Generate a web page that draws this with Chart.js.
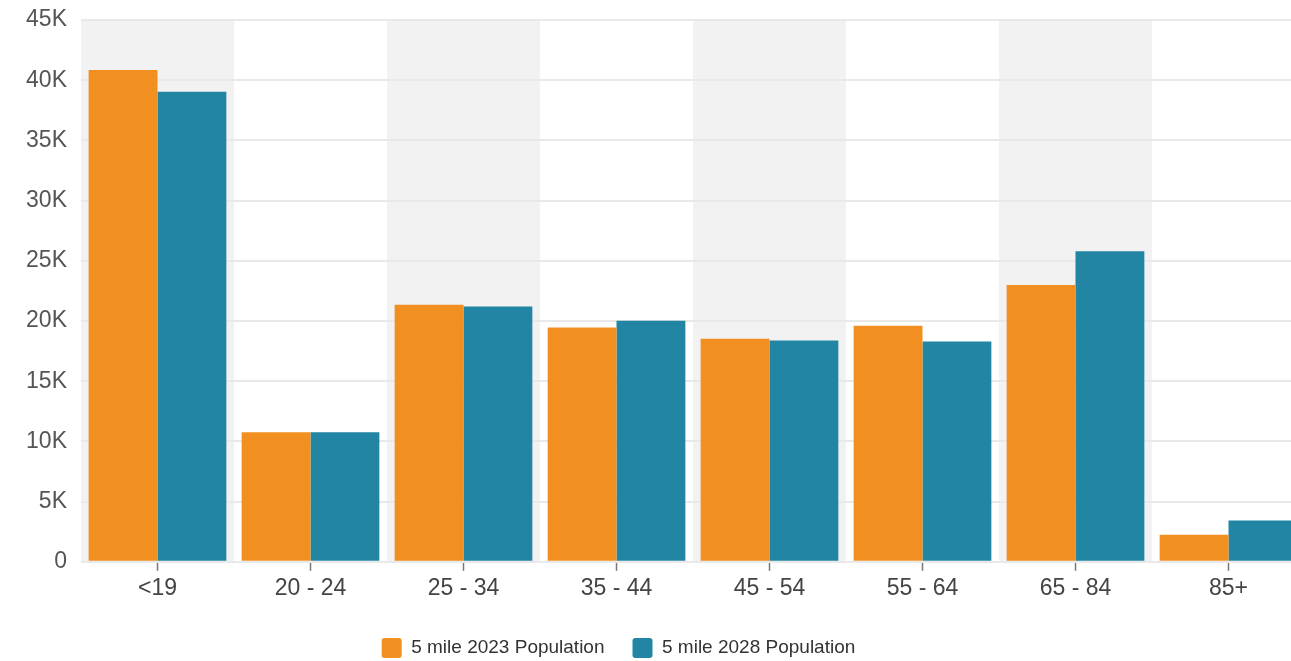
<!DOCTYPE html>
<html>
<head>
<meta charset="utf-8">
<title>5 mile Population by Age</title>
<script src="https://cdn.jsdelivr.net/npm/chart.js@4.4.1/dist/chart.umd.min.js"></script>
<style>
  html, body { margin: 0; padding: 0; background: #ffffff; overflow: hidden; }
  #wrap { width: 1291px; height: 661px; overflow: hidden; position: relative; }
  #chart { display: block; }
</style>
</head>
<body>
<div id="wrap"><canvas id="chart" width="1305" height="661"></canvas></div>
<script>
// Age groups along the x axis
const ageGroups = ['<19', '20 - 24', '25 - 34', '35 - 44', '45 - 54', '55 - 64', '65 - 84', '85+'];

// Population counts per age group
const pop2023 = [40850, 10760, 21350, 19450, 18520, 19600, 23000, 2250];
const pop2028 = [39040, 10760, 21200, 20020, 18380, 18300, 25800, 3430];

// Series names
const seriesNames = ['5 mile 2023 Population', '5 mile 2028 Population'];

// Y axis range and step
const yMin = 0;
const yMax = 45000;
const yStep = 5000;

const FONT = "'Liberation Sans', Arial, Helvetica, sans-serif";
const ORANGE = '#F18F21';
const TEAL = '#2185A3';

// Shades every other age group behind the bars
const bandPlugin = {
  id: 'bands',
  beforeDraw(chart) {
    const { ctx, chartArea, scales } = chart;
    const x = scales.x;
    const n = chart.data.labels.length;
    const w = n > 1 ? x.getPixelForValue(1) - x.getPixelForValue(0) : chartArea.width;
    ctx.save();
    ctx.fillStyle = '#f2f2f2';
    for (let i = 0; i < n; i += 2) {
      const cx = x.getPixelForValue(i);
      ctx.fillRect(cx - w / 2, chartArea.top, w, chartArea.bottom - chartArea.top);
    }
    ctx.restore();
  }
};

// Nudges the legend block into place under the plot
const LEGEND_DX = -34;
const LEGEND_DY = 7;
const legendNudge = {
  id: 'legendNudge',
  afterLayout(chart) {
    const lg = chart.legend;
    if (!lg) return;
    lg.left += LEGEND_DX; lg.right += LEGEND_DX;
    lg.top += LEGEND_DY; lg.bottom += LEGEND_DY;
  }
};

new Chart(document.getElementById('chart'), {
  type: 'bar',
  data: {
    labels: ageGroups,
    datasets: [
      {
        label: seriesNames[0],
        data: pop2023,
        backgroundColor: ORANGE,
        borderWidth: 0,
        categoryPercentage: 0.9,
        barPercentage: 1.0
      },
      {
        label: seriesNames[1],
        data: pop2028,
        backgroundColor: TEAL,
        borderWidth: 0,
        categoryPercentage: 0.9,
        barPercentage: 1.0
      }
    ]
  },
  options: {
    responsive: false,
    animation: false,
    layout: { padding: { top: 20, right: 0, bottom: 0, left: 0 } },
    scales: {
      x: {
        afterFit(scale) {
          scale.height = 41.2;
          scale.paddingLeft = 0;
          scale.paddingRight = 0;
        },
        grid: {
          display: true,
          offset: false,
          drawOnChartArea: false,
          drawTicks: true,
          tickLength: 9,
          tickColor: '#777777',
          tickWidth: 1.5
        },
        border: { display: false },
        ticks: {
          color: '#444444',
          font: { family: FONT, size: 23 },
          padding: 4,
          maxRotation: 0,
          autoSkip: false
        }
      },
      y: {
        min: yMin,
        max: yMax,
        afterFit(scale) {
          scale.width = 81;
          scale.paddingTop = 0;
          scale.paddingBottom = 0;
        },
        grid: {
          color: '#e9e9e9',
          lineWidth: 2,
          drawTicks: false
        },
        border: { display: false },
        ticks: {
          stepSize: yStep,
          color: '#555555',
          padding: 14,
          font: { family: FONT, size: 23 },
          callback: (v) => (v === 0 ? '0' : (v / 1000) + 'K')
        }
      }
    },
    plugins: {
      legend: {
        position: 'bottom',
        labels: {
          color: '#333333',
          font: { family: FONT, size: 19 },
          boxWidth: 20,
          boxHeight: 20,
          padding: 28,
          useBorderRadius: true,
          borderRadius: 3
        }
      },
      tooltip: { enabled: false }
    }
  },
  plugins: [bandPlugin, legendNudge]
});
</script>
</body>
</html>
